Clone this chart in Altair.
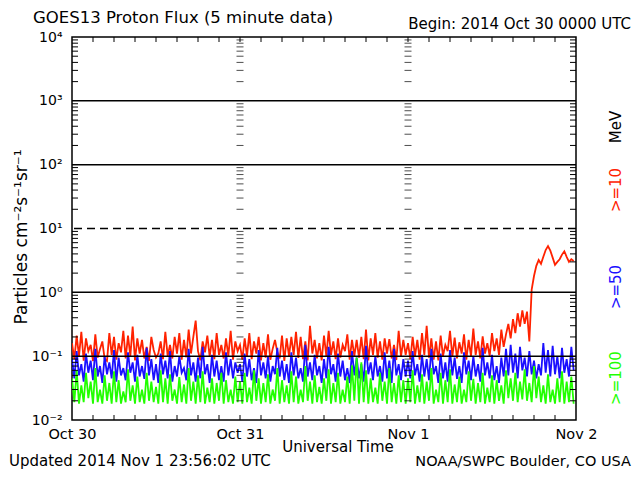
import altair as alt
import pandas as pd

# GOES13 proton flux, values in units of 0.001 pfu, one 20-minute sample per entry, one list per UT day
red_oct30 = [160, 90, 210, 100, 240, 85, 190, 120, 150, 84,
             220, 95, 130, 170, 90, 84, 230, 105, 200, 88,
             160, 115, 250, 92, 210, 100, 290, 86, 190, 110,
             180, 92, 140, 84, 200, 125, 95, 110, 170, 90,
             240, 100, 150, 92, 200, 110, 230, 88, 180, 96,
             260, 110, 200, 360, 120, 86, 170, 115, 210, 98,
             180, 90, 230, 105, 150, 92, 190, 100, 250, 88,
             170, 120]
red_oct31 = [150, 88, 190, 100, 230, 90, 170, 110, 200, 86,
             160, 95, 220, 88, 130, 180, 115, 92, 210, 84,
             190, 100, 200, 105, 240, 94, 200, 90, 170, 86,
             300, 110, 180, 92, 160, 86, 210, 100, 250, 105,
             170, 90, 190, 95, 150, 120, 220, 88, 180, 100,
             180, 95, 200, 90, 260, 86, 190, 105, 230, 95,
             170, 88, 190, 110, 185, 92, 150, 87, 250, 98,
             180, 105]
red_nov01 = [160, 90, 200, 100, 180, 88, 230, 105, 300, 95,
             190, 88, 170, 86, 210, 100, 150, 120, 250, 98,
             195, 92, 165, 110, 220, 88, 180, 100, 270, 105,
             170, 92, 205, 110, 160, 100, 230, 120, 190, 105,
             260, 140,
             220, 320, 190, 380, 230, 470, 290, 520, 320, 500,
             170, 1100, 1800, 2600, 3200, 2800, 3600, 4600, 5300, 4500,
             3500, 2700, 3000, 3300, 3900, 4400, 3600, 3000, 3300, 3100]

blue_oct30 = [90, 45, 120, 50, 75, 40, 110, 55, 85, 42,
              130, 48, 70, 38, 100, 52, 80, 45, 125, 40,
              95, 50, 65, 42, 115, 55, 80, 40, 105, 48,
              70, 44, 135, 50, 90, 42, 75, 38, 110, 52,
              85, 45, 120, 40, 70, 48, 100, 55, 65, 42,
              130, 50, 80, 40, 95, 45, 140, 52, 75, 38,
              105, 48, 85, 42, 70, 40, 115, 50, 90, 45,
              80, 55]
blue_oct31 = [75, 40, 110, 48, 90, 42, 65, 38, 125, 50,
              80, 45, 100, 40, 70, 52, 135, 48, 85, 42,
              75, 38, 115, 50, 95, 45, 65, 40, 150, 48,
              80, 42, 105, 50, 70, 38, 90, 45, 140, 52,
              75, 40, 110, 48, 85, 42, 65, 38, 120, 50,
              95, 45, 75, 40, 145, 52, 80, 42, 100, 48,
              70, 40, 115, 45, 85, 38, 130, 50, 75, 42,
              90, 48]
blue_nov01 = [85, 45, 120, 50, 75, 40, 105, 48, 90, 42,
              130, 52, 70, 38, 110, 45, 80, 40, 125, 50,
              95, 44, 70, 38, 115, 52, 85, 42, 100, 48,
              75, 40, 135, 50, 80, 45, 105, 42, 70, 38,
              95, 48,
              130, 50, 150, 55, 110, 45, 140, 60, 95, 48,
              120, 52, 85, 45, 75, 50, 160, 55, 125, 48,
              145, 52, 100, 45, 135, 55, 90, 48, 140, 60]

green_oct30 = [45, 19, 60, 18, 35, 19, 55, 22, 40, 18,
               65, 19, 30, 18, 50, 20, 38, 18, 58, 19,
               42, 18, 28, 19, 62, 20, 35, 18, 48, 19,
               30, 18, 55, 20, 40, 19, 33, 18, 60, 19,
               45, 18, 52, 20, 30, 18, 47, 19, 36, 18,
               65, 20, 40, 18, 50, 19, 58, 18, 32, 19,
               45, 18, 38, 20, 55, 18, 42, 19, 30, 18,
               48, 19]
green_oct31 = [40, 18, 55, 19, 32, 18, 60, 20, 45, 18,
               38, 19, 52, 18, 30, 20, 65, 18, 42, 19,
               35, 18, 58, 19, 48, 18, 30, 19, 70, 20,
               40, 18, 50, 19, 33, 18, 45, 20, 62, 18,
               38, 19, 55, 18, 30, 19, 48, 18, 72, 20,
               95, 18, 80, 19, 60, 18, 45, 19, 32, 18,
               55, 20, 40, 18, 65, 19, 38, 18, 50, 19,
               42, 18]
green_nov01 = [45, 19, 60, 18, 35, 19, 52, 18, 40, 20,
               65, 18, 30, 19, 55, 18, 42, 19, 62, 18,
               36, 19, 48, 18, 30, 19, 58, 20, 44, 18,
               38, 19, 55, 18, 32, 19, 50, 18, 42, 20,
               35, 18, 60, 22, 45, 20, 55, 19, 40, 21,
               62, 20, 38, 19, 70, 22, 48, 19, 35, 18,
               52, 19, 30, 18, 45, 19, 58, 18, 40, 19,
               48, 18]

day_labels = ["Oct 30", "Oct 31", "Nov 1", "Nov 2"]
decades = [0.01, 0.1, 1, 10, 100, 1000, 10000]
solid_grid = [0.1, 1, 100, 1000]
dashed_grid = [10]

RED, BLUE, GREEN = "#ff2200", "#1a10ff", "#22ff00"
FONT = "DejaVu Sans"
W, H = 504, 383


def series(days):
    rows = []
    for d, vals in enumerate(days):
        n = len(vals)
        for j, v in enumerate(vals):
            rows.append({"h": d * 24 + j * 24.0 / n, "v": v / 1000.0})
    return pd.DataFrame(rows)


xscale = alt.Scale(domain=[0, 72], nice=False, zero=False)
yscale = alt.Scale(type="log", domain=[0.01, 10000], nice=False)

xaxis = alt.Axis(values=[0, 24, 48, 72],
                 labelExpr="['Oct 30','Oct 31','Nov 1','Nov 2'][round(datum.value/24)]",
                 ticks=False, domain=False, grid=False, labelPadding=7,
                 labelFont=FONT, labelFontSize=14.5, labelColor="black",
                 labelFlush=False, labelOverlap=False, title=None)
yaxis = alt.Axis(values=decades,
                 labelExpr="'10' + ['⁻²','⁻¹','⁰','¹','²','³','⁴'][round(log(datum.value)/LN10)+2]",
                 ticks=False, domain=False, grid=False, labelPadding=10,
                 labelFont=FONT, labelFontSize=14, labelColor="black",
                 labelFlush=False, labelOverlap=False, title=None)

X = alt.X("h:Q", scale=xscale, axis=xaxis)
Y = alt.Y("v:Q", scale=yscale, axis=yaxis)


def line(days, color):
    return alt.Chart(series(days)).mark_line(color=color, strokeWidth=1.8, clip=True).encode(x=X, y=Y)


red = line([red_oct30, red_oct31, red_nov01], RED)
blue = line([blue_oct30, blue_oct31, blue_nov01], BLUE)
green = line([green_oct30, green_oct31, green_nov01], GREEN)

grid_solid = alt.Chart(pd.DataFrame({"v": solid_grid})).mark_rule(color="black", strokeWidth=1.5).encode(y=Y)
grid_dash = alt.Chart(pd.DataFrame({"v": dashed_grid})).mark_rule(
    color="black", strokeWidth=1.5, strokeDash=[8, 5]).encode(y=Y)

minor_vals = [m * 10.0 ** k for k in range(-2, 4) for m in range(2, 10)]
minor_df = pd.DataFrame({"v": minor_vals})
left_ticks = alt.Chart(minor_df).mark_rule(color="black", strokeWidth=1).encode(
    x=alt.value(0), x2=alt.value(6), y=Y)
right_ticks = alt.Chart(minor_df).mark_rule(color="black", strokeWidth=1).encode(
    x=alt.value(W - 6), x2=alt.value(W), y=Y)
col_df = pd.DataFrame([{"h": h, "v": v} for h in (24, 48) for v in minor_vals])
col_ticks = alt.Chart(col_df).mark_tick(color="black", orient="horizontal", size=7, thickness=1).encode(
    x=X, y=Y)

hours_df = pd.DataFrame({"h": list(range(3, 72, 3))})
top_ticks = alt.Chart(hours_df).mark_rule(color="black", strokeWidth=1).encode(
    x=X, y=alt.value(0), y2=alt.value(5))
bot_ticks = alt.Chart(hours_df).mark_rule(color="black", strokeWidth=1).encode(
    x=X, y=alt.value(H - 5), y2=alt.value(H))

one = pd.DataFrame({"a": [0]})


def label(txt, x, y, size, color="black", align="left", angle=0, baseline="alphabetic"):
    kw = dict(font=FONT, fontSize=size, color=color, align=align, baseline=baseline)
    if angle:
        kw["angle"] = angle
    return alt.Chart(one).mark_text(**kw).encode(
        x=alt.value(x), y=alt.value(y), text=alt.value(txt))


texts = [
    label("GOES13 Proton Flux (5 minute data)", -39, -14, 16.5),
    label("Begin: 2014 Oct 30 0000 UTC", 559, -8, 15, align="right"),
    label("Universal Time", 266, 415, 15, align="center"),
    label("Updated 2014 Nov  1 23:56:02 UTC", -63, 429, 15),
    label("NOAA/SWPC Boulder, CO USA", 559, 429, 14.5, align="right"),
    label("Particles cm⁻²s⁻¹sr⁻¹", -50, 200, 17, align="center", angle=270, baseline="middle"),
    label("MeV", 544, 90, 15, align="center", angle=270, baseline="middle"),
    label(">=10", 544, 153, 15, color=RED, align="center", angle=270, baseline="middle"),
    label(">=50", 544, 250, 15, color=BLUE, align="center", angle=270, baseline="middle"),
    label(">=100", 544, 341, 15, color=GREEN, align="center", angle=270, baseline="middle"),
]

chart = alt.layer(
    red, blue, green, grid_solid, grid_dash, left_ticks, right_ticks, col_ticks,
    top_ticks, bot_ticks, *texts
).properties(
    width=W, height=H,
    padding={"left": 64, "top": 29, "right": 56, "bottom": 52},
    autosize=alt.AutoSizeParams(type="none"),
    background="white",
).configure_view(stroke="black", strokeWidth=1.5)

chart.save("out.html", embed_options={"renderer": "svg", "actions": False})
